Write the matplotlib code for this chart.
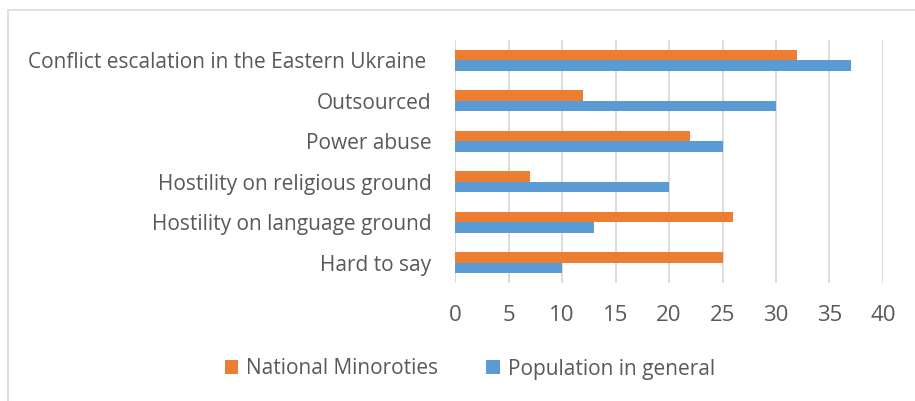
import numpy as np
import matplotlib.pyplot as plt
from matplotlib.lines import Line2D

categories = ['Conflict escalation in the Eastern Ukraine ', 'Outsourced', 'Power abuse',
              'Hostility on religious ground', 'Hostility on language ground', 'Hard to say']
minorities = [32, 12, 22, 7, 26, 25]
population = [37, 30, 25, 20, 13, 10]

plt.rcParams['font.family'] = ['Open Sans', 'DejaVu Sans']
text_col = '#595959'

fig = plt.figure(figsize=(9.15, 4.01), dpi=100)
ax = fig.add_axes([455 / 915, 1 - 283 / 401, 428 / 915, 243 / 401])

y = np.arange(len(categories))
h = 0.26
ax.barh(y - h / 2, minorities, height=h, color='#ED7D31', label='National Minoroties', zorder=3)
ax.barh(y + h / 2, population, height=h, color='#5B9BD5', label='Population in general', zorder=3)

ax.set_xlim(0, 40)
ax.set_ylim(len(categories) - 0.5, -0.5)
ax.set_xticks(range(0, 41, 5))
ax.set_yticks(y)
ax.set_yticklabels(categories)
ax.xaxis.grid(True, color='#D9D9D9', linewidth=1.3, zorder=0)
ax.set_axisbelow(True)
for s in ax.spines.values():
    s.set_visible(False)
ax.tick_params(axis='both', length=0, colors=text_col, labelsize=15)
ax.tick_params(axis='x', pad=16, labelsize=16)
ax.tick_params(axis='y', pad=17)

fig.legend(loc='center', bbox_to_anchor=(470 / 915, 1 - 369 / 401), ncol=2, frameon=False,
           fontsize=15, labelcolor=text_col, handlelength=0.65, handleheight=0.65,
           handletextpad=0.4, columnspacing=2.3)

# outer chart border
fig.add_artist(Line2D([8 / 915, 8 / 915], [0, 1 - 10 / 401], transform=fig.transFigure,
                      color='#D9D9D9', linewidth=1.2))
fig.add_artist(Line2D([8 / 915, 1], [1 - 10 / 401, 1 - 10 / 401], transform=fig.transFigure,
                      color='#D9D9D9', linewidth=1.2))

fig.savefig('out.png', dpi=100)
